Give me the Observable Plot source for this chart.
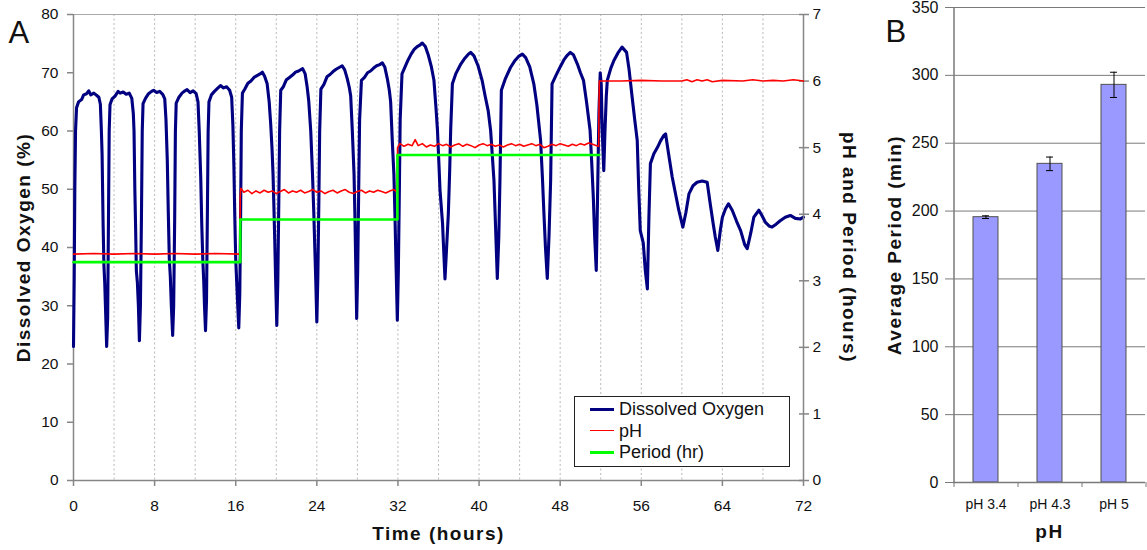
<!DOCTYPE html>
<html>
<head>
<meta charset="utf-8">
<script src="https://cdn.jsdelivr.net/npm/d3@7"></script>
<script src="https://cdn.jsdelivr.net/npm/@observablehq/plot@0.6"></script>
<style>
  html, body { margin: 0; padding: 0; background: #fff; }
  #wrap { position: relative; width: 1147px; height: 550px; overflow: hidden; background: #fff; font-family: "Liberation Sans", Arial, sans-serif; }
  #wrap > svg, #wrap > figure { position: absolute; top: 0; margin: 0; }
  g[font-weight="bold"] { letter-spacing: 1.5px; }
  #legend { position: absolute; left: 574px; top: 396px; width: 214px; height: 69px; border: 1px solid #222; background: #fff; font-size: 18px; color: #111; }
  #legend .row { position: absolute; left: 15px; height: 22px; line-height: 22px; white-space: nowrap; }
  #legend .sw { display: inline-block; width: 24px; vertical-align: middle; margin-right: 5px; position: relative; top: -1px; }
</style>
</head>
<body>
<div id="wrap"></div>
<script>
// ---------- Panel A data ----------
// Dissolved oxygen (%) vs time (hours)
const doPhase1 = [
  [0,23],[0.07,35],[0.13,50],[0.2,60],[0.3,64],[0.5,65],[0.8,65.4],[1.0,66.2],[1.3,66.4],[1.5,66.9],[1.7,66.2],[2.0,66.5],[2.3,66.1],[2.5,65.8],[2.65,64.6],[2.75,60],[2.82,56],[2.92,44],[3.0,37],[3.08,34],[3.15,30],[3.27,23],
  [3.37,28],[3.45,45],[3.52,60],[3.6,64.5],[3.8,65.5],[4.1,66],[4.4,66.8],[4.6,66.5],[4.9,66.7],[5.2,66.3],[5.5,66.5],[5.75,65.6],[5.9,63],[5.97,60],[6.05,50],[6.12,44],[6.2,36],[6.3,34],[6.4,30],[6.5,24],
  [6.6,30],[6.7,45],[6.78,60],[6.86,64.7],[7.1,65.6],[7.4,66.4],[7.7,66.8],[7.9,67],[8.2,66.6],[8.5,66.8],[8.8,66.3],[9.0,65.5],[9.12,62],[9.25,55],[9.35,46],[9.45,38],[9.55,35],[9.65,30],[9.78,24.9],
  [9.88,30],[9.98,45],[10.05,60],[10.13,64.8],[10.4,65.8],[10.7,66.5],[11.0,66.9],[11.2,67.1],[11.5,66.6],[11.8,66.9],[12.1,66.4],[12.28,65],[12.4,60],[12.55,52],[12.65,44],[12.75,38],[12.85,34],[12.92,30],[13.02,25.7],
  [13.12,31],[13.2,45],[13.28,60],[13.36,65],[13.6,66.2],[13.9,66.8],[14.2,67.3],[14.5,67.8],[14.8,67.4],[15.1,67.6],[15.4,67],[15.6,65.8],[15.72,61],[15.82,54],[15.9,46],[16.0,38],[16.1,34],[16.2,30],[16.3,26.2]
];
const doPhase2 = [
  [16.4,32],[16.48,45],[16.55,60],[16.66,66.5],[16.9,67.2],[17.2,68.2],[17.5,68.6],[17.8,69.2],[18.1,69.5],[18.4,69.8],[18.63,70.1],[18.85,69.4],[19.1,68.1],[19.3,65],[19.45,61.2],[19.58,57],[19.68,52.6],[19.78,46],[19.85,41.2],[19.93,35],[20.05,26.6],
  [20.15,34],[20.25,48],[20.33,60],[20.44,67],[20.7,67.6],[21.0,68.8],[21.3,69.2],[21.6,69.6],[21.9,70.1],[22.2,70.3],[22.6,70.7],[22.85,69.8],[23.05,67.5],[23.2,65.2],[23.4,60],[23.57,52.7],[23.7,46],[23.8,40],[23.9,34],[24.0,27.2],
  [24.1,35],[24.2,48],[24.28,60],[24.4,67.2],[24.7,68],[25.0,69.3],[25.3,69.7],[25.6,70.2],[25.9,70.6],[26.2,70.9],[26.5,71.2],[26.75,70.5],[27.0,69],[27.2,67.5],[27.34,66],[27.5,60],[27.67,52.6],[27.75,46],[27.83,38],[27.93,27.8],
  [28.03,36],[28.13,50],[28.22,62],[28.4,68.7],[28.7,69.2],[29.0,70],[29.3,70.3],[29.6,70.8],[29.9,71.2],[30.2,71.4],[30.46,71.7],[30.7,71],[30.95,69],[31.15,67],[31.28,65],[31.45,58],[31.6,52.6],[31.7,46],[31.8,38],[31.94,27.5]
];
const doPhase3 = [
  [32.04,36],[32.14,50],[32.22,62],[32.4,69.8],[32.7,71],[33.0,72.2],[33.3,73.2],[33.6,74],[33.9,74.5],[34.2,74.8],[34.4,75.1],[34.7,74.5],[35.0,73],[35.3,71],[35.55,68.7],[35.75,64],[35.9,60.1],[36.05,54],[36.15,49.8],[36.4,44.1],[36.5,40],[36.64,34.6],
  [36.8,40],[36.97,45.8],[37.1,53],[37.2,60.1],[37.37,68.1],[37.7,69.8],[38.2,71.5],[38.6,72.5],[38.9,73.1],[39.17,73.5],[39.5,72.9],[39.9,71.2],[40.3,68.7],[40.6,66],[40.9,63.5],[41.14,60.1],[41.3,56],[41.47,51.5],[41.6,45],[41.8,34.7],
  [41.95,42],[42.06,51.5],[42.2,67],[42.6,69],[43.1,70.9],[43.5,72],[43.9,72.8],[44.27,73.2],[44.6,72.6],[45.0,71],[45.4,68.1],[45.7,64.5],[46.07,58.4],[46.25,52],[46.4,45.8],[46.55,40],[46.73,34.7],
  [46.9,42],[47.06,51.5],[47.2,68.1],[47.6,69.6],[48.0,71],[48.4,72.3],[48.7,73],[49.0,73.5],[49.3,73.1],[49.7,71.5],[50.0,70],[50.3,68.7],[50.6,65],[50.95,60.1],[51.1,55],[51.27,48.6],[51.4,42],[51.56,36.05]
];
const doPhase4 = [
  [51.7,50],[51.82,63],[51.95,70],[52.05,68],[52.15,60],[52.3,53.2],[52.42,60],[52.55,66],[52.65,68.7],[53.0,70.8],[53.3,72.1],[53.7,73.4],[54.1,74.4],[54.55,73.5],[54.8,70.5],[55.1,65.8],[55.35,62],[55.6,58.4],[55.75,50],[55.9,42.9],[56.1,41.5],[56.2,40.7],[56.4,36],[56.6,32.9],
  [56.75,45],[56.9,54.4],[57.24,56.1],[57.6,57.2],[57.9,58.3],[58.2,59.2],[58.4,59.5],[58.7,56],[59.05,52.1],[59.4,49],[59.7,46.4],[60.1,43.5],[60.4,46],[60.7,49.2],[61.1,50.6],[61.5,51.2],[62.0,51.4],[62.5,51.2],[62.8,47.5],[63.1,44],[63.3,41.8],[63.55,39.5],
  [63.8,43],[64.0,45.2],[64.3,46.6],[64.6,47.5],[64.97,46.4],[65.4,44.5],[65.8,42.9],[66.2,40.5],[66.45,39.8],[66.8,42.5],[67.1,45.2],[67.6,46.4],[67.9,45.5],[68.25,44.3],[68.6,43.7],[68.9,43.5],[69.3,44],[69.7,44.6],[70.2,45.2],[70.7,45.5],[71.2,45],[71.7,44.9],[72,45.2]
];
// pH vs time (hours)
const phSeries = [
  [0,3.40],[2,3.41],[4,3.40],[6,3.41],[8,3.40],[10,3.41],[12,3.40],[14,3.41],[16.42,3.40],
  [16.44,4.25],[16.5,4.39],[16.8,4.33],[17.2,4.36],[17.6,4.31],[18.0,4.35],[18.4,4.32],[18.8,4.36],[19.2,4.33],[19.6,4.35],[20.0,4.31],[20.4,4.34],[20.8,4.37],[21.2,4.32],[21.6,4.35],[22.0,4.33],[22.4,4.36],[22.8,4.32],[23.2,4.34],[23.6,4.37],[24.0,4.33],[24.4,4.35],[24.8,4.31],[25.2,4.34],[25.6,4.36],[26.0,4.32],[26.4,4.35],[26.8,4.37],[27.2,4.33],[27.6,4.31],[28.0,4.34],[28.4,4.36],[28.8,4.32],[29.2,4.35],[29.6,4.33],[30.0,4.36],[30.4,4.34],[30.8,4.32],[31.2,4.35],[31.6,4.37],[31.92,4.33],
  [31.96,5.0],[32.2,5.06],[32.6,5.02],[33.0,5.05],[33.4,5.03],[33.7,5.12],[34.0,5.03],[34.4,5.06],[34.8,5.01],[35.2,5.04],[35.6,5.02],[36.0,5.06],[36.4,5.03],[36.8,5.05],[37.2,5.01],[37.6,5.04],[38.0,5.06],[38.4,5.02],[38.8,5.05],[39.2,5.03],[39.6,5.0],[40.0,5.04],[40.4,5.06],[40.8,5.03],[41.2,5.05],[41.6,5.02],[42.0,5.04],[42.4,5.01],[42.8,5.04],[43.2,5.06],[43.6,5.03],[44.0,5.05],[44.4,5.02],[44.8,5.04],[45.2,5.06],[45.6,5.03],[46.0,5.05],[46.4,5.0],[46.8,5.02],[47.2,5.05],[47.6,5.03],[48.0,5.06],[48.4,5.04],[48.8,5.02],[49.2,5.05],[49.6,5.03],[50.0,5.06],[50.4,5.04],[50.8,5.07],[51.2,5.05],[51.6,5.03],[51.8,5.02],
  [51.82,5.48],[51.86,6.0],[54,6.0],[56,6.01],[58,6.0],[60,6.0],[60.5,6.02],[61,5.99],[61.5,6.02],[62,6.0],[62.5,6.02],[63,5.99],[64,6.01],[66,6.0],[67,6.02],[68,6.0],[69,6.01],[70,6.0],[71,6.02],[72,6.0]
];
// Period (hours): value held from each start time
const periodTimes  = [0, 16.45, 31.95, 51.85];
const periodValues = [3.28, 3.92, 4.89, 4.89];

const xTicksA = [0, 8, 16, 24, 32, 40, 48, 56, 64, 72];
const xGridA = [4, 8, 12, 16, 20, 24, 28, 32, 36, 40, 44, 48, 52, 56, 60, 64, 68];
const yTicksLeft = [0, 10, 20, 30, 40, 50, 60, 70, 80];
const yTicksRight = [0, 1, 2, 3, 4, 5, 6, 7];

// ---------- Panel B data ----------
const phCategories = ["pH 3.4", "pH 4.3", "pH 5"];
const avgPeriod = [195.5, 234.8, 293];
const periodErr = [1, 5, 9.3];
const yTicksB = [0, 50, 100, 150, 200, 250, 300, 350];

// ---------- build ----------
const doData = [...doPhase1, ...doPhase2, ...doPhase3, ...doPhase4].map(([t, v]) => ({t, v}));
const phData = phSeries.map(([t, v]) => ({t, v}));
const periodData = periodTimes.map((t, i) => ({t, v: periodValues[i]}));
const barData = phCategories.map((c, i) => ({c, v: avgPeriod[i], lo: avgPeriod[i] - periodErr[i], hi: avgPeriod[i] + periodErr[i]}));

const FONT = "'Liberation Sans', Arial, Helvetica, sans-serif";
const axisGray = "#868686";
const common = {width: 870, height: 550, marginLeft: 73, marginRight: 67, marginTop: 14, marginBottom: 70};
const titleStyle = {fontWeight: "bold", fontSize: 19, fill: "#111", textAnchor: "middle", lineAnchor: "middle"};

const plotA = Plot.plot({
  ...common,
  style: {fontFamily: FONT, fontSize: "15.5px", color: "#111", background: "white", overflow: "visible"},
  x: {domain: [0, 72]},
  y: {domain: [0, 80]},
  marks: [
    Plot.ruleX(xGridA, {stroke: "#b8b8b8", strokeDasharray: "2,2.5", strokeWidth: 1}),
    Plot.frame({stroke: "#a8a8a8"}),
    Plot.ruleY([0], {stroke: axisGray, strokeWidth: 1.5}),
    Plot.ruleX([0], {stroke: axisGray, strokeWidth: 1.5}),
    Plot.axisX({ticks: xTicksA, tickSize: 6, tickPadding: 13, stroke: axisGray, strokeWidth: 1.5, tickFormat: d => d, label: null}),
    Plot.axisY({ticks: yTicksLeft, tickSize: 6, tickPadding: 9, stroke: axisGray, strokeWidth: 1.5, tickFormat: d => d, label: null}),
    Plot.line(doData, {x: "t", y: "v", stroke: "#000080", strokeWidth: 3.1, strokeLinejoin: "round"}),
    Plot.text(["Dissolved Oxygen (%)"], {frameAnchor: "left", rotate: -90, dx: -50, ...titleStyle}),
    Plot.text(["Time (hours)"], {frameAnchor: "bottom", dy: 53, ...titleStyle}),
    Plot.text(["A"], {frameAnchor: "top-left", dx: -65, dy: 6, textAnchor: "start", lineAnchor: "top", fontSize: 31, fill: "#111"})
  ]
});

const plotA2 = Plot.plot({
  ...common,
  style: {fontFamily: FONT, fontSize: "15.5px", color: "#111", background: "none", overflow: "visible"},
  x: {domain: [0, 72], axis: null},
  y: {domain: [0, 7]},
  marks: [
    Plot.ruleX([72], {stroke: axisGray, strokeWidth: 1.5}),
    Plot.axisY({anchor: "right", ticks: yTicksRight, tickSize: 10, dx: -5, stroke: axisGray, strokeWidth: 1.5, tickFormat: () => "", label: null}),
    Plot.axisY({anchor: "right", ticks: yTicksRight, tickSize: 0, tickPadding: 9, tickFormat: d => d, label: null}),
    Plot.line(phData, {x: "t", y: "v", stroke: "#ff0000", strokeWidth: 1.6}),
    Plot.line(periodData, {x: "t", y: "v", stroke: "#00ff00", strokeWidth: 2.6, curve: "step-after"}),
    Plot.text(["pH and Period (hours)"], {frameAnchor: "right", rotate: 90, dx: 46, ...titleStyle})
  ]
});

const plotB = Plot.plot({
  width: 277, height: 550, marginLeft: 83, marginRight: 2, marginTop: 7, marginBottom: 68,
  style: {fontFamily: FONT, fontSize: "16px", color: "#111", background: "white", overflow: "visible"},
  x: {domain: phCategories, paddingInner: 0.61, paddingOuter: 0.305},
  y: {domain: [0, 350]},
  marks: [
    Plot.gridY({ticks: yTicksB, stroke: "#7a7a7a", strokeOpacity: 1, strokeWidth: 1}),
    Plot.barY(barData, {x: "c", y: "v", fill: "#9999ff", stroke: "#505050", strokeWidth: 1}),
    Plot.ruleX(barData, {x: "c", y1: "lo", y2: "hi", stroke: "#000", strokeWidth: 1}),
    Plot.tickY(barData, {x: "c", y: "lo", stroke: "#000", strokeWidth: 1, insetLeft: 9, insetRight: 9}),
    Plot.tickY(barData, {x: "c", y: "hi", stroke: "#000", strokeWidth: 1, insetLeft: 9, insetRight: 9}),
    Plot.ruleY([0], {stroke: "#7a7a7a", strokeWidth: 1.5}),
    Plot.ruleX(phCategories.slice(0, 1), {x: d => d, dx: -32, stroke: "#7a7a7a", strokeWidth: 1.5}),
    Plot.axisY({ticks: yTicksB, tickSize: 8, tickPadding: 7, stroke: "#7a7a7a", tickFormat: d => d, label: null}),
    Plot.axisX({tickSize: 0, tickPadding: 17, fontSize: 14, label: null}),
    Plot.axisX({tickSize: 5, dx: -32, stroke: "#7a7a7a", tickFormat: () => "", label: null}),
    Plot.axisX({ticks: phCategories.slice(-1), tickSize: 5, dx: 32, stroke: "#7a7a7a", tickFormat: () => "", label: null}),
    Plot.text(["Average Period (min)"], {frameAnchor: "left", rotate: -90, dx: -58.5, ...titleStyle}),
    Plot.text(["pH"], {frameAnchor: "bottom", dy: 49, ...titleStyle}),
    Plot.text(["B"], {frameAnchor: "top-left", dx: -68, dy: 12, textAnchor: "start", lineAnchor: "top", fontSize: 31, fill: "#111"})
  ]
});

const wrap = document.getElementById("wrap");
plotA.style.left = "0px";
plotA2.style.left = "0px";
plotB.style.left = "870px";
wrap.appendChild(plotA);
wrap.appendChild(plotA2);
wrap.appendChild(plotB);

// legend (HTML)
const legendItems = [
  {label: "Dissolved Oxygen", color: "#000080", w: 3.5},
  {label: "pH", color: "#ff0000", w: 1.6},
  {label: "Period (hr)", color: "#00ff00", w: 3}
];
const legend = document.createElement("div");
legend.id = "legend";
legendItems.forEach((it, i) => {
  const row = document.createElement("div");
  row.className = "row";
  row.style.top = (1 + i * 21.7) + "px";
  const sw = document.createElement("span");
  sw.className = "sw";
  sw.style.borderTop = it.w + "px solid " + it.color;
  row.appendChild(sw);
  row.appendChild(document.createTextNode(it.label));
  legend.appendChild(row);
});
wrap.appendChild(legend);
</script>
</body>
</html>
